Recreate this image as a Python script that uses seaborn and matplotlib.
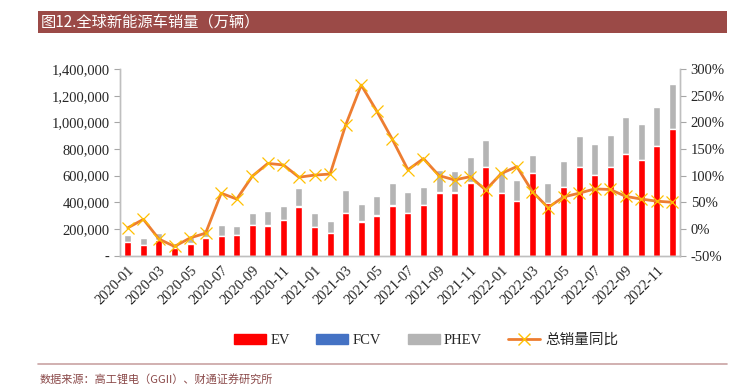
import numpy as np
import pandas as pd
import matplotlib
matplotlib.use("Agg")
import matplotlib.pyplot as plt
import matplotlib.ticker as mticker
from matplotlib.patches import Patch, Rectangle
from matplotlib.lines import Line2D
import seaborn as sns

# monthly data, 2020-01 .. 2022-12
months = pd.period_range("2020-01", "2022-12", freq="M").strftime("%Y-%m").tolist()
ev = [100000, 80000, 117000, 60000, 90000, 135000, 148000, 155000, 230000, 225000, 265000, 367000,
      215000, 170000, 320000, 255000, 300000, 375000, 322000, 382000, 472000, 472000, 547000, 665000,
      467000, 412000, 617000, 395000, 512000, 665000, 605000, 665000, 762000, 715000, 820000, 950000]
fcv = [500, 400, 600, 300, 500, 700, 800, 800, 1000, 1000, 1200, 1500,
       700, 600, 1000, 800, 1000, 1200, 1100, 1200, 1500, 1500, 1800, 2000,
       1200, 1000, 1500, 900, 1200, 1500, 1400, 1500, 1800, 1600, 1800, 2000]
phev = [55000, 50000, 50000, 32000, 45000, 65000, 82000, 67000, 90000, 105000, 107000, 138000,
        100000, 92000, 170000, 132000, 145000, 165000, 155000, 135000, 170000, 160000, 188000, 200000,
        165000, 155000, 133000, 150000, 198000, 230000, 230000, 240000, 273000, 272000, 292000, 335000]
yoy = [2, 18, -19, -33, -17, -8, 67, 56, 99, 123, 120, 97,
       101, 103, 195, 270, 221, 168, 111, 132, 100, 92, 98, 73,
       104, 117, 70, 40, 60, 67, 75, 74, 61, 56, 52, 50]

df = pd.DataFrame({"month": months, "EV": ev, "FCV": fcv, "PHEV": phev, "yoy": yoy})
df["ev_fcv"] = df["EV"] + df["FCV"]
df["total"] = df["ev_fcv"] + df["PHEV"]

c_ev, c_fcv, c_phev = "#FF0000", "#4472C4", "#B4B4B4"
c_line, c_mark = "#ED7D31", "#FFC000"

sns.set_style("white")
plt.rcParams["font.family"] = ["Liberation Serif", "Noto Sans CJK SC"]

fig = plt.figure(figsize=(7.41, 3.86), dpi=100)
ax = fig.add_axes([0.162, 0.338, 0.756, 0.483])

sns.barplot(data=df, x="month", y="total", color=c_phev, width=0.45, ax=ax, saturation=1)
sns.barplot(data=df, x="month", y="ev_fcv", color=c_fcv, width=0.45, ax=ax, saturation=1)
sns.barplot(data=df, x="month", y="EV", color=c_ev, width=0.45, ax=ax, saturation=1)

ax.set_xlim(-0.5, len(months) - 0.5)
ax.set_ylim(0, 1400000)
ax.yaxis.set_major_locator(mticker.MultipleLocator(200000))
ax.yaxis.set_major_formatter(mticker.FuncFormatter(lambda v, p: "-" if v == 0 else f"{v:,.0f}"))
ax.set_xlabel("")
ax.set_ylabel("")
ax.set_xticks(range(0, len(months), 2))
ax.set_xticklabels(months[::2], rotation=45, ha="right", rotation_mode="anchor", fontsize=10.5)
ax.set_xticks(np.arange(-0.5, len(months), 2), minor=True)
ax.tick_params(axis="x", which="major", length=0, pad=6)
ax.tick_params(axis="x", which="minor", length=4, color="#A6A6A6", direction="out")
ax.tick_params(axis="y", length=4, color="#A6A6A6", direction="out", labelsize=10.5)

ax2 = ax.twinx()
sns.lineplot(x=np.arange(len(months)), y=df["yoy"], color=c_line, linewidth=2, ax=ax2)
ax2.plot(np.arange(len(months)), df["yoy"], linestyle="none", marker="x",
         markersize=9, markeredgewidth=0.9, color=c_mark)
ax2.set_ylim(-50, 300)
ax2.yaxis.set_major_locator(mticker.MultipleLocator(50))
ax2.yaxis.set_major_formatter(mticker.FuncFormatter(lambda v, p: f"{v:.0f}%"))
ax2.set_ylabel("")
ax2.tick_params(axis="y", length=4, color="#A6A6A6", direction="out", labelsize=10.5)

for a in (ax, ax2):
    a.spines["top"].set_visible(False)
    for s in ("left", "right", "bottom"):
        a.spines[s].set_color("#BFBFBF")
        a.spines[s].set_linewidth(1)

# legend
handles = [Patch(color=c_ev, label="EV"), Patch(color=c_fcv, label="FCV"),
           Patch(color=c_phev, label="PHEV"),
           Line2D([], [], color=c_line, linewidth=2, marker="x", markersize=8,
                  markeredgecolor=c_mark, markerfacecolor=c_mark, label="总销量同比")]
fig.legend(handles=handles, loc="center", bbox_to_anchor=(0.575, 0.118), ncol=4,
           frameon=False, fontsize=10.5, handlelength=2.2, handleheight=0.6,
           columnspacing=1.8, handletextpad=0.3)

# header band and footer
fig.patches.append(Rectangle((0.051, 0.9145), 0.93, 0.056, transform=fig.transFigure,
                             facecolor="#9B4A47", edgecolor="none", zorder=0))
fig.text(0.055, 0.942, "图12.全球新能源车销量（万辆）", color="white", fontsize=11,
         va="center", ha="left", family=["Noto Sans CJK SC", "DejaVu Sans"])
fig.add_artist(Line2D([0.051, 0.981], [0.057, 0.057], transform=fig.transFigure,
                      color="#C9A3A3", linewidth=1.2))
fig.text(0.054, 0.018, "数据来源：高工锂电（GGII）、财通证券研究所", color="#8B4A4A",
         fontsize=8, va="center", ha="left", family=["Noto Sans CJK SC", "DejaVu Sans"])

fig.savefig("out.png", dpi=100)
